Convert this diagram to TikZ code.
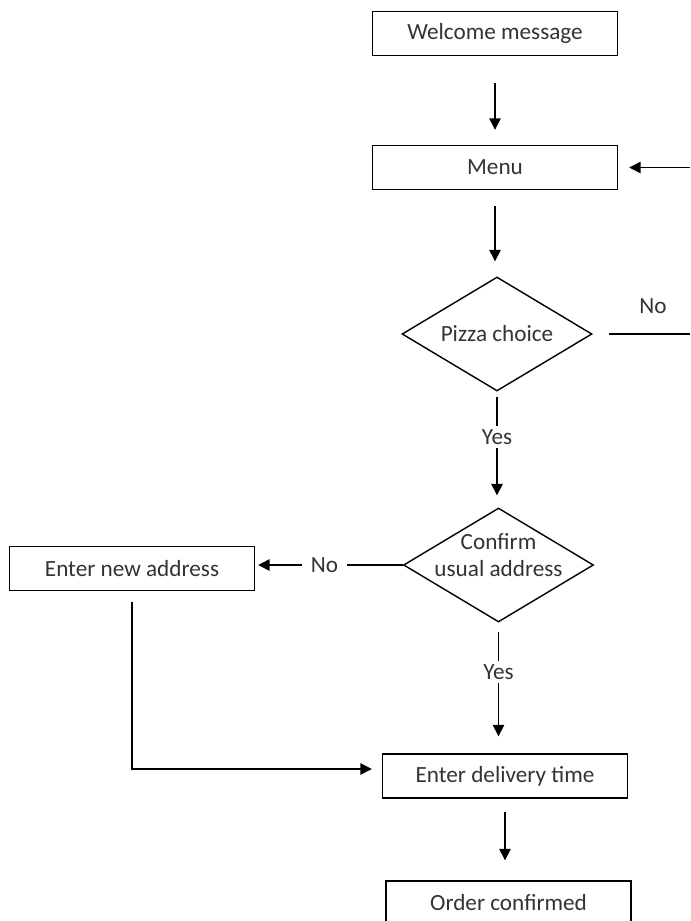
\documentclass[tikz,border=0pt]{standalone}
\usepackage{fontspec}
\setmainfont{Carlito}
\usetikzlibrary{positioning,shapes.geometric,arrows.meta}

\begin{document}
\begin{tikzpicture}[font=\fontsize{13.2}{15.4}\selectfont, line width=0.8pt,
	box/.style={rectangle, draw=black, text=black!80, minimum width=4.9cm, minimum height=0.88cm},
	dec/.style={diamond, draw=black, minimum width=3.8cm, minimum height=2.28cm, inner sep=0pt},
	txt/.style={text=black!80, align=center},
	arr/.style={-{Triangle[length=6.5pt,width=6.5pt]}},
	lbl/.style={fill=white, text=black!80, inner ysep=2pt, inner xsep=5pt}]
		\clip (0,0) rectangle (13.8,-18.42);
		\node[box] (wel) at (9.9,-0.67) {Welcome message};
		\node[box] (menu) at (9.9,-3.35) {Menu};
		\node[dec] (pizza) at (9.94,-6.68) {};
		\node[txt] (pizzaT) at (pizza.center) {Pizza choice};
		\node[dec] (conf) at (9.97,-11.3) {};
		\node[txt] (confT) at ([yshift=0.2cm]conf.center) {Confirm\\usual address};
		\node[box] (addr) at (2.64,-11.37) {Enter new address};
		\node[box] (time) at (10.1,-15.52) {Enter delivery time};
		\node[box] (order) at (10.17,-18.06) {Order confirmed};
		\coordinate (noR) at (13.8,-6.68);
		\coordinate (backR) at (13.8,-3.35);

		\draw[arr, shorten <=0.54cm, shorten >=0.3cm] (wel.south) -- (wel.south |- menu.north);
		\draw[arr, shorten <=0.32cm, shorten >=0.3cm] (menu.south) -- (menu.south |- pizza.north);
		\draw[shorten <=0.32cm] (pizza.east) -- node[pos=0.62, above=0.28cm, text=black!80] {No} (noR);
		\draw[arr, shorten >=0.22cm] (backR) -- (menu.east);
		\draw[arr, shorten <=0.1cm, shorten >=0.24cm] (pizza.south) -- node[lbl, pos=0.39] {Yes} (pizza.south |- conf.north);
		\draw[arr, shorten >=0.06cm] (conf.west) -- node[lbl, pos=0.53] {No} (conf.west -| addr.east);
		\draw[arr, shorten <=0.18cm, shorten >=0.34cm] (conf.south) -- node[lbl, pos=0.38] {Yes} (conf.south |- time.north);
		\draw[arr, shorten <=0.22cm, shorten >=0.2cm] (addr.south) |- ([yshift=0.14cm]time.west);
		\draw[arr, shorten <=0.26cm, shorten >=0.4cm] (time.south) -- (time.south |- order.north);
	\end{tikzpicture}
\end{document}
